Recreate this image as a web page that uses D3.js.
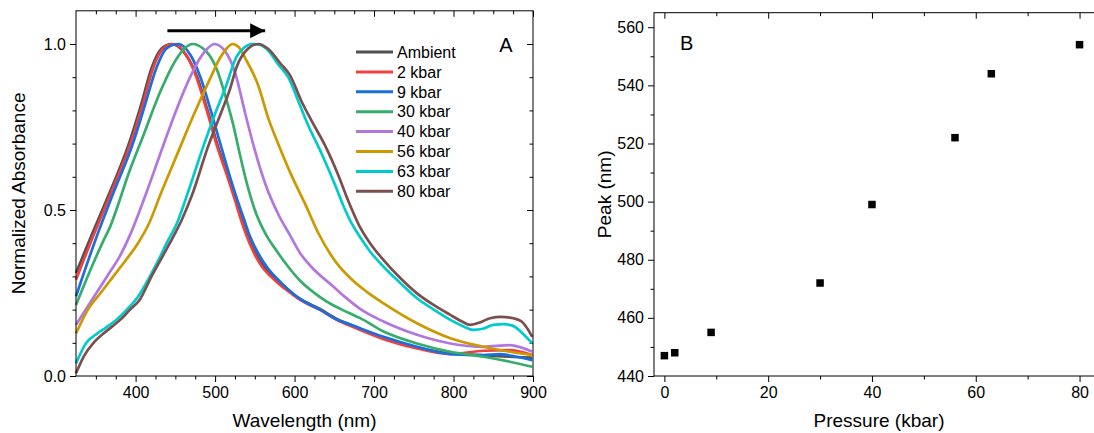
<!DOCTYPE html>
<html>
<head>
<meta charset="utf-8">
<script src="https://cdn.jsdelivr.net/npm/d3@7"></script>
<style>
  body { margin: 0; background: #fff; }
  text { font-family: "Liberation Sans", Arial, sans-serif; fill: #000; }
</style>
</head>
<body>
<script>
// spectra, [wavelength nm, normalized absorbance]
const ambient = [[325,0.31],[343,0.415],[366,0.545],[391,0.696],[408,0.826],[420,0.927],[433,0.987],[445,1.0],[463,0.968],[478,0.897],[491,0.796],[503,0.696],[518,0.59],[526,0.53],[533,0.475],[541,0.42],[550,0.373],[561,0.331],[571,0.303],[581,0.282],[607,0.232],[632,0.202],[653,0.172],[670,0.155],[712,0.113],[754,0.086],[796,0.068],[838,0.062],[870,0.058],[899,0.055]];
const kbar2 = [[325,0.29],[343,0.40],[368,0.545],[393,0.696],[410,0.826],[422,0.927],[435,0.987],[447,1.0],[464,0.967],[477,0.897],[490,0.796],[502,0.696],[517,0.59],[525,0.53],[532,0.475],[540,0.42],[548,0.375],[559,0.329],[570,0.30],[580,0.278],[595,0.25],[607,0.229],[632,0.199],[653,0.169],[670,0.151],[712,0.111],[754,0.083],[796,0.066],[838,0.076],[870,0.078],[899,0.063]];
const kbar9 = [[325,0.24],[348,0.40],[371,0.545],[396,0.696],[413,0.826],[426,0.927],[439,0.987],[454,1.0],[469,0.967],[482,0.897],[495,0.796],[507,0.696],[520,0.59],[528,0.53],[536,0.475],[544,0.42],[553,0.375],[565,0.329],[584,0.279],[607,0.232],[632,0.200],[653,0.170],[670,0.155],[712,0.118],[754,0.088],[796,0.066],[838,0.063],[858,0.066],[879,0.058],[899,0.048]];
const kbar30 = [[325,0.214],[345,0.33],[360,0.41],[368,0.45],[380,0.53],[389,0.595],[410,0.726],[431,0.856],[452,0.957],[462,0.988],[472,1.0],[484,0.988],[490,0.975],[502,0.925],[514,0.835],[523,0.755],[530,0.68],[540,0.58],[550,0.50],[563,0.43],[578,0.375],[592,0.329],[607,0.287],[624,0.252],[640,0.225],[657,0.203],[670,0.188],[682,0.175],[712,0.134],[754,0.098],[796,0.073],[838,0.058],[871,0.043],[899,0.028]];
const kbar40 = [[325,0.154],[345,0.229],[364,0.30],[380,0.36],[393,0.425],[414,0.555],[435,0.696],[452,0.806],[468,0.897],[481,0.957],[490,0.985],[499,1.0],[512,0.98],[525,0.915],[538,0.79],[550,0.68],[563,0.58],[580,0.485],[594,0.425],[607,0.37],[621,0.329],[649,0.269],[666,0.233],[682,0.203],[712,0.164],[754,0.124],[796,0.098],[838,0.088],[871,0.093],[899,0.073]];
const kbar56 = [[325,0.128],[340,0.20],[356,0.25],[372,0.30],[388,0.35],[403,0.40],[417,0.46],[431,0.545],[452,0.666],[473,0.786],[494,0.897],[506,0.957],[514,0.985],[522,1.0],[530,0.99],[538,0.957],[554,0.877],[567,0.776],[580,0.696],[596,0.605],[613,0.52],[630,0.43],[653,0.34],[670,0.295],[690,0.255],[712,0.219],[754,0.159],[796,0.114],[838,0.088],[871,0.073],[899,0.063]];
const kbar63 = [[325,0.038],[338,0.10],[350,0.125],[364,0.148],[377,0.172],[389,0.20],[403,0.239],[418,0.30],[430,0.355],[439,0.40],[452,0.46],[464,0.54],[485,0.69],[500,0.79],[513,0.868],[527,0.962],[537,0.99],[546,1.0],[556,0.998],[565,0.985],[580,0.937],[592,0.90],[605,0.826],[617,0.756],[634,0.67],[651,0.575],[661,0.515],[670,0.468],[682,0.42],[695,0.375],[712,0.329],[733,0.28],[754,0.234],[775,0.20],[796,0.169],[812,0.15],[825,0.139],[838,0.143],[850,0.154],[863,0.156],[875,0.151],[887,0.128],[899,0.098]];
const kbar80 = [[325,0.008],[335,0.06],[347,0.10],[358,0.125],[370,0.148],[382,0.172],[393,0.20],[405,0.229],[420,0.30],[435,0.365],[443,0.40],[458,0.47],[471,0.545],[491,0.69],[508,0.796],[519,0.866],[527,0.93],[542,0.987],[554,1.0],[567,0.985],[582,0.942],[594,0.907],[609,0.826],[622,0.766],[638,0.696],[655,0.605],[668,0.525],[682,0.45],[695,0.40],[712,0.349],[733,0.295],[754,0.249],[775,0.214],[796,0.184],[810,0.165],[821,0.154],[834,0.162],[846,0.174],[860,0.178],[871,0.176],[885,0.165],[892,0.146],[899,0.118]];

const seriesNames = ['Ambient', '2 kbar', '9 kbar', '30 kbar', '40 kbar', '56 kbar', '63 kbar', '80 kbar'];
const seriesData = [ambient, kbar2, kbar9, kbar30, kbar40, kbar56, kbar63, kbar80];
const colors = ['#515151', '#F14040', '#1A6FDF', '#37AD6B', '#B177DE', '#CC9900', '#00CBCC', '#7D4E4E'];

// peak position vs pressure
const pressure = [0, 2, 9, 30, 40, 56, 63, 80];
const peak = [447, 448, 455, 472, 499, 522, 544, 554];

const width = 1094, height = 433;

const svg = d3.select('body').append('svg')
  .attr('width', width)
  .attr('height', height);

// ---------- panel A ----------
const xA = d3.scaleLinear().domain([325, 900]).range([76, 533]);
const yA = d3.scaleLinear().domain([0, 1.1]).range([376, 10.8]);

const gA = svg.append('g');

function ticks(g, axis, transform) {
  const a = g.append('g').attr('transform', transform).call(axis);
  a.select('.domain').remove();
  a.selectAll('line').attr('stroke', '#000');
  a.selectAll('text').attr('font-size', 16).attr('fill', '#000')
    .style('font-family', '"Liberation Sans", Arial, sans-serif');
  return a;
}

const xMinorA = [350, 375, 425, 450, 475, 525, 550, 575, 625, 650, 675, 725, 750, 775, 825, 850, 875];

// bottom
ticks(gA, d3.axisBottom(xA).tickValues([400, 500, 600, 700, 800, 900]).tickSize(6).tickSizeOuter(0).tickPadding(5), 'translate(0,376)');
ticks(gA, d3.axisBottom(xA).tickValues(xMinorA).tickSize(3.5).tickSizeOuter(0).tickFormat(''), 'translate(0,376)');
// top mirrored
ticks(gA, d3.axisTop(xA).tickValues([400, 500, 600, 700, 800, 900]).tickSize(-6).tickSizeOuter(0).tickFormat(''), 'translate(0,10.8)');
ticks(gA, d3.axisTop(xA).tickValues(xMinorA).tickSize(-3.5).tickSizeOuter(0).tickFormat(''), 'translate(0,10.8)');
// left
ticks(gA, d3.axisLeft(yA).tickValues([0, 0.5, 1.0]).tickSize(6).tickSizeOuter(0).tickPadding(4).tickFormat(d3.format('.1f')), 'translate(76,0)');
ticks(gA, d3.axisLeft(yA).tickValues([0.1, 0.2, 0.3, 0.4, 0.6, 0.7, 0.8, 0.9]).tickSize(3.5).tickSizeOuter(0).tickFormat(''), 'translate(76,0)');
// right mirrored
ticks(gA, d3.axisRight(yA).tickValues([0, 0.5, 1.0]).tickSize(-6).tickSizeOuter(0).tickFormat(''), 'translate(533,0)');
ticks(gA, d3.axisRight(yA).tickValues([0.1, 0.2, 0.3, 0.4, 0.6, 0.7, 0.8, 0.9]).tickSize(-3.5).tickSizeOuter(0).tickFormat(''), 'translate(533,0)');

const line = d3.line()
  .x(d => xA(d[0]))
  .y(d => yA(d[1]))
  .curve(d3.curveMonotoneX);

gA.append('g').selectAll('path')
  .data(seriesData)
  .join('path')
  .attr('d', line)
  .attr('fill', 'none')
  .attr('stroke', (d, i) => colors[i])
  .attr('stroke-width', 2.7)
  .attr('stroke-linejoin', 'round');

// frame
gA.append('rect')
  .attr('x', xA(325)).attr('y', yA(1.1))
  .attr('width', xA(900) - xA(325)).attr('height', yA(0) - yA(1.1))
  .attr('fill', 'none').attr('stroke', '#000').attr('stroke-width', 1);

// arrow
svg.append('defs').append('marker')
  .attr('id', 'head')
  .attr('viewBox', '0 0 10 10')
  .attr('refX', 10).attr('refY', 5)
  .attr('markerWidth', 5).attr('markerHeight', 5)
  .attr('markerUnits', 'strokeWidth')
  .attr('orient', 'auto')
  .append('path').attr('d', 'M0,0 L10,5 L0,10 z').attr('fill', '#000');

gA.append('line')
  .attr('x1', xA(440)).attr('x2', xA(563))
  .attr('y1', yA(1.04)).attr('y2', yA(1.04))
  .attr('stroke', '#000').attr('stroke-width', 3)
  .attr('marker-end', 'url(#head)');

// legend
const leg = gA.append('g');
seriesNames.forEach((name, i) => {
  const yy = 52 + i * 19.9;
  leg.append('line')
    .attr('x1', 356).attr('x2', 393)
    .attr('y1', yy).attr('y2', yy)
    .attr('stroke', colors[i]).attr('stroke-width', 3);
  leg.append('text')
    .attr('x', 397).attr('y', yy).attr('dy', '0.36em')
    .attr('font-size', 16).text(name);
});

gA.append('text').attr('x', 506).attr('y', 52).attr('text-anchor', 'middle')
  .attr('font-size', 20).text('A');

gA.append('text').attr('x', xA(612.5)).attr('y', 427).attr('text-anchor', 'middle')
  .attr('font-size', 19).text('Wavelength (nm)');

gA.append('text')
  .attr('transform', `translate(25,${(yA(0) + yA(1.1)) / 2}) rotate(-90)`)
  .attr('text-anchor', 'middle')
  .attr('font-size', 19).text('Normalized Absorbance');

// ---------- panel B ----------
const xB = d3.scaleLinear().domain([-2, 85]).range([654, 1105.5]);
const yB = d3.scaleLinear().domain([440, 565]).range([376, 12.7]);

const gB = svg.append('g');

ticks(gB, d3.axisBottom(xB).tickValues([0, 20, 40, 60, 80]).tickSize(6).tickSizeOuter(0).tickPadding(5), 'translate(0,376)');
ticks(gB, d3.axisBottom(xB).tickValues([10, 30, 50, 70]).tickSize(3.5).tickSizeOuter(0).tickFormat(''), 'translate(0,376)');
ticks(gB, d3.axisTop(xB).tickValues([0, 20, 40, 60, 80]).tickSize(-6).tickSizeOuter(0).tickFormat(''), 'translate(0,12.7)');
ticks(gB, d3.axisTop(xB).tickValues([10, 30, 50, 70]).tickSize(-3.5).tickSizeOuter(0).tickFormat(''), 'translate(0,12.7)');
ticks(gB, d3.axisLeft(yB).tickValues([440, 460, 480, 500, 520, 540, 560]).tickSize(6).tickSizeOuter(0).tickPadding(4), 'translate(654,0)');
ticks(gB, d3.axisLeft(yB).tickValues([450, 470, 490, 510, 530, 550]).tickSize(3.5).tickSizeOuter(0).tickFormat(''), 'translate(654,0)');

gB.append('rect')
  .attr('x', xB(-2)).attr('y', yB(565))
  .attr('width', xB(85) - xB(-2)).attr('height', yB(440) - yB(565))
  .attr('fill', 'none').attr('stroke', '#000').attr('stroke-width', 1);

const sq = 7.5;
gB.append('g').selectAll('rect')
  .data(pressure.map((p, i) => [p, peak[i]]))
  .join('rect')
  .attr('x', d => xB(d[0]) - sq / 2)
  .attr('y', d => yB(d[1]) - sq / 2)
  .attr('width', sq).attr('height', sq)
  .attr('fill', '#000');

gB.append('text').attr('x', 680).attr('y', 50)
  .attr('font-size', 20).text('B');

gB.append('text').attr('x', 879).attr('y', 427).attr('text-anchor', 'middle')
  .attr('font-size', 19).text('Pressure (kbar)');

gB.append('text')
  .attr('transform', `translate(611,${(yB(440) + yB(565)) / 2}) rotate(-90)`)
  .attr('text-anchor', 'middle')
  .attr('font-size', 19).text('Peak (nm)');
</script>
</body>
</html>
